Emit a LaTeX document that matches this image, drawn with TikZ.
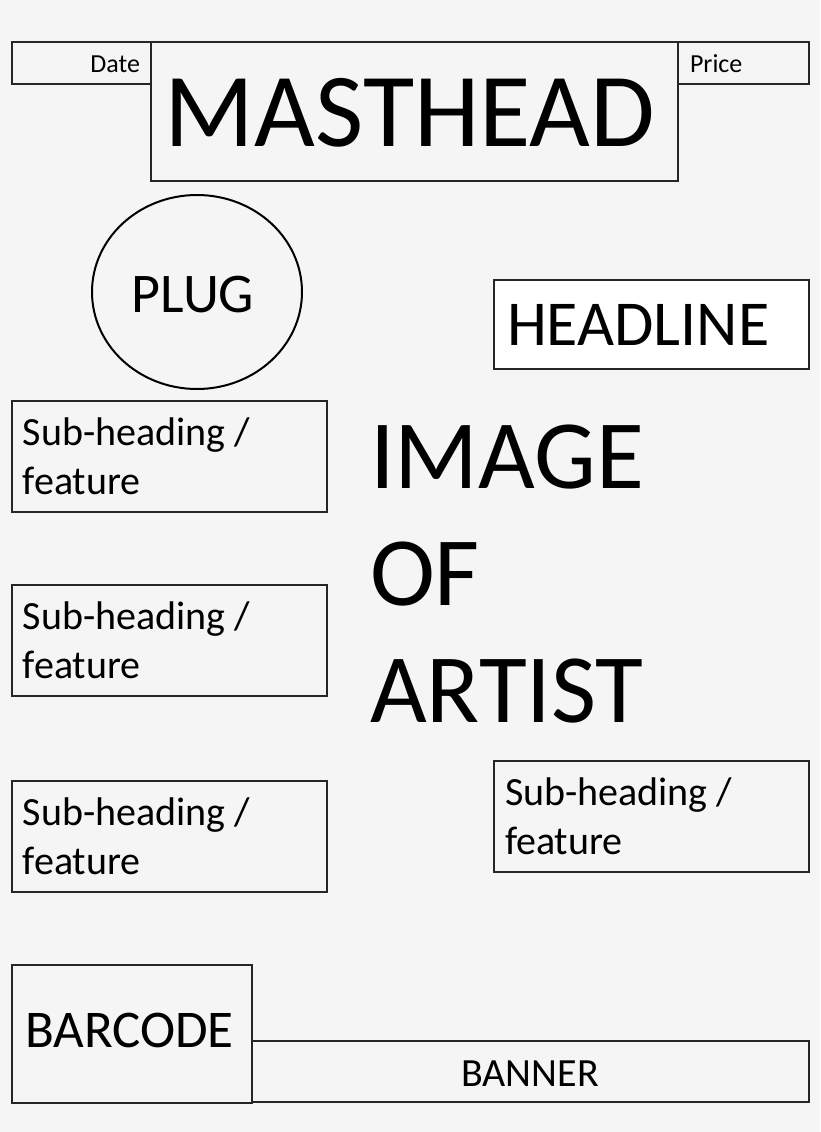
\documentclass[tikz,border=0pt]{standalone}
\usepackage{fontspec}
\setmainfont{Carlito}
\usetikzlibrary{shapes.geometric}
\definecolor{pagebg}{HTML}{F5F5F5}
\begin{document}
\begin{tikzpicture}[x=1pt,y=-1pt,
  frame/.style={draw=black!85,line width=1.2pt,rectangle,inner sep=0pt,outer sep=0pt,anchor=north west},
  txt/.style={inner sep=0pt,outer sep=0pt,text=black},
  sub/.style={txt,font=\fontsize{40}{49}\selectfont,anchor=base west}]
\fill[pagebg] (0,0) rectangle (820,1132);
\useasboundingbox (0,0) rectangle (820,1132);
% top row
\node[frame,minimum width=139pt,minimum height=42pt] (date) at (12,42) {};
\node[frame,minimum width=131pt,minimum height=42pt] (price) at (678,42) {};
\node[frame,fill=pagebg,minimum width=527pt,minimum height=139pt] (mast) at (151,42) {};
\node[txt,font=\fontsize{26}{30}\selectfont,anchor=base east] (datet) at (140,72) {Date};
\node[txt,font=\fontsize{26}{30}\selectfont,anchor=base west] (pricet) at (690,72) {Price};
\node[txt,font=\fontsize{105}{120}\selectfont,anchor=base] (mastt) at (410,146) {MASTHEAD};
% plug
\node[draw=black,line width=2pt,ellipse,minimum width=210pt,minimum height=194pt,inner sep=0pt] (plug) at (197,292) {};
\node[txt,font=\fontsize{56}{60}\selectfont,anchor=base] (plugt) at (193,312) {PLUG};
% headline
\node[frame,fill=white,minimum width=315pt,minimum height=89pt] (head) at (494,280) {};
\node[txt,font=\fontsize{64}{70}\selectfont,anchor=base west] (headt) at (507,345) {HEADLINE};
% sub-headings
\node[frame,minimum width=315pt,minimum height=111pt] (sa) at (12,401) {};
\node[frame,minimum width=315pt,minimum height=111pt] (sb) at (12,585) {};
\node[frame,minimum width=315pt,minimum height=111pt] (sc) at (12,781) {};
\node[frame,minimum width=315pt,minimum height=111pt] (sd) at (494,761) {};
\node[sub] (sa1) at (23,445) {Sub-heading /};
\node[sub] (sa2) at (23,494) {feature};
\node[sub] (sb1) at (23,629) {Sub-heading /};
\node[sub] (sb2) at (23,678) {feature};
\node[sub] (sc1) at (23,825) {Sub-heading /};
\node[sub] (sc2) at (23,874) {feature};
\node[sub] (sd1) at (505,805) {Sub-heading /};
\node[sub] (sd2) at (505,854) {feature};
% image of artist
\node[txt,font=\fontsize{98}{117}\selectfont,anchor=base west] (im1) at (370,488) {IMAGE};
\node[txt,font=\fontsize{98}{117}\selectfont,anchor=base west] (im2) at (370,605) {OF};
\node[txt,font=\fontsize{98}{117}\selectfont,anchor=base west] (im3) at (370,722) {ARTIST};
% barcode and banner
\node[frame,minimum width=557pt,minimum height=61pt] (banner) at (252,1041) {};
\node[frame,line width=2.5pt,minimum width=240pt,minimum height=138pt] (barcode) at (12,965) {};
\node[txt,font=\fontsize{53}{60}\selectfont,anchor=base west] (barcodet) at (25,1047) {BARCODE};
\node[txt,font=\fontsize{40}{46}\selectfont,anchor=base] (bannert) at (530,1086) {BANNER};
\end{tikzpicture}
\end{document}
